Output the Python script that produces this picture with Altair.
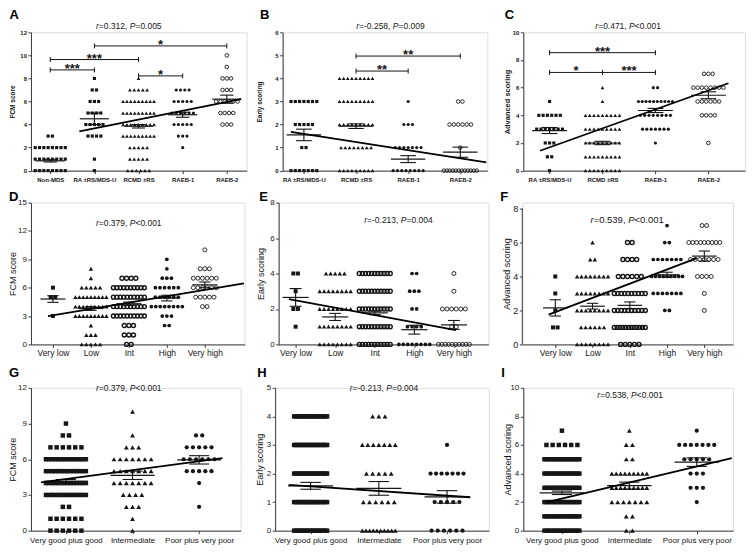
import json
import altair as alt
import pandas as pd

FONT = "Liberation Sans"
INK = "#161616"
AXC = "#3a3a3a"

# ---------------- data ----------------
A_groups = ["Non-MDS", "RA ±RS/MDS-U", "RCMD ±RS", "RAEB-1", "RAEB-2"]
A_counts = [
    {0: 8, 1: 8, 2: 8, 3: 2},
    {0: 1, 1: 1, 3: 4, 4: 5, 5: 4, 6: 3, 7: 2, 8: 1},
    {0: 6, 1: 5, 2: 5, 3: 9, 4: 9, 5: 9, 6: 9, 7: 5, 8: 1},
    {2: 1, 3: 3, 4: 5, 5: 6, 6: 5, 7: 4},
    {4: 3, 5: 4, 6: 6, 7: 3, 8: 3, 9: 1, 10: 1},
]
A_mean = [0.85, 4.5, 3.85, 4.85, 6.2]
A_sem = [0.1, 0.5, 0.15, 0.22, 0.35]
A_fit = [(0.66, 3.4), (4.32, 6.2)]
A_sig = [(0, 1, 8.74, "***"), (0, 2, 9.64, "***"), (1, 4, 10.82, "*"), (2, 3, 8.22, "*")]
A_stat = ("0.312", "=0.005")

B_groups = ["RA ±RS/MDS-U", "RCMD ±RS", "RAEB-1", "RAEB-2"]
B_counts = [
    {0: 7, 1: 2, 2: 5, 3: 7},
    {0: 9, 1: 8, 2: 9, 3: 9, 4: 9},
    {0: 8, 1: 7, 2: 3, 3: 1},
    {0: 12, 1: 1, 2: 6, 3: 2},
]
B_mean = [1.55, 1.93, 0.5, 0.8]
B_sem = [0.25, 0.1, 0.15, 0.22]
B_fit = [(-0.25, 1.68), (3.5, 0.36)]
B_sig = [(1, 3, 4.97, "**"), (1, 2, 4.32, "**")]
B_stat = ("-0.258", "=0.009")

C_groups = ["RA ±RS/MDS-U", "RCMD ±RS", "RAEB-1", "RAEB-2"]
C_counts = [
    {0: 1, 1: 2, 2: 3, 3: 7, 4: 6, 5: 1},
    {0: 9, 1: 9, 2: 9, 3: 9, 4: 9, 5: 1, 6: 1},
    {2: 1, 3: 7, 4: 8, 5: 10, 6: 2},
    {2: 1, 4: 4, 5: 6, 6: 8, 7: 3},
]
C_mean = [2.9, 2.0, 4.35, 5.45]
C_sem = [0.22, 0.12, 0.15, 0.25]
C_fit = [(-0.18, 1.44), (3.38, 6.32)]
C_sig = [(0, 2, 8.53, "***"), (0, 1, 7.1, "*"), (1, 2, 7.1, "***")]
C_stat = ("0.471", "<0.001")

RISK = ["Very low", "Low", "Int", "High", "Very high"]
D_counts = [
    {3: 1, 5: 2, 6: 1},
    {0: 5, 1: 3, 2: 1, 3: 9, 4: 9, 5: 9, 6: 5, 7: 1, 8: 1},
    {0: 2, 1: 3, 2: 3, 3: 10, 4: 10, 5: 10, 6: 10, 7: 4},
    {2: 2, 3: 3, 4: 8, 5: 6, 6: 6, 7: 3, 8: 1, 9: 1},
    {4: 2, 5: 5, 6: 6, 7: 6, 8: 3, 10: 1},
]
D_mean = [4.8, 3.8, 4.3, 4.9, 6.3]
D_sem = [0.35, 0.2, 0.18, 0.3, 0.3]
D_fit = [(-0.13, 3.0), (5.03, 6.45)]
D_stat = ("0.379", "<0.001")

E_counts = [
    {1: 1, 2: 2, 3: 1, 4: 2},
    {0: 8, 1: 8, 2: 8, 3: 8, 4: 5},
    {0: 11, 1: 11, 2: 11, 3: 11, 4: 11},
    {0: 8, 1: 4, 2: 2, 3: 3, 4: 2},
    {0: 10, 1: 2, 2: 6, 3: 1, 4: 1},
]
E_mean = [2.65, 1.55, 1.78, 0.83, 1.1]
E_sem = [0.5, 0.2, 0.1, 0.25, 0.25]
E_fit = [(-0.17, 2.55), (4.05, 0.8)]
E_stat = ("-0.213", "=0.004")

F_counts = [
    {1: 2, 2: 1, 3: 1, 4: 1},
    {0: 8, 1: 6, 2: 8, 3: 8, 4: 8, 5: 2, 6: 1},
    {0: 5, 1: 12, 2: 10, 3: 10, 4: 6, 5: 4, 6: 2},
    {2: 2, 3: 7, 4: 9, 5: 7, 6: 2, 7: 1},
    {2: 1, 3: 1, 4: 4, 5: 7, 6: 9, 7: 2},
]
F_mean = [2.15, 2.25, 2.3, 4.1, 5.2]
F_sem = [0.48, 0.17, 0.2, 0.15, 0.3]
F_fit = [(-0.18, 1.75), (3.8, 5.08)]
F_stat = ("0.539", "<0.001")

CYTO = ["Very good plus good", "Intermediate", "Poor plus very poor"]
G_counts = [
    {0: 6, 1: 6, 2: 2, 3: 14, 4: 14, 5: 14, 6: 14, 7: 6, 8: 2, 9: 1},
    {0: 1, 1: 1, 2: 3, 3: 4, 4: 7, 5: 7, 6: 7, 7: 3, 8: 1, 10: 1},
    {2: 1, 4: 1, 5: 5, 6: 6, 7: 5, 8: 2},
]
G_mean = [4.15, 4.65, 5.95]
G_sem = [0.15, 0.35, 0.35]
G_fit = [(-0.375, 4.06), (2.35, 6.1)]
G_stat = ("0.379", "<0.001")

H_counts = [
    {0: 18, 1: 18, 2: 18, 3: 18, 4: 18},
    {0: 10, 1: 6, 2: 5, 3: 7, 4: 3},
    {0: 6, 1: 5, 2: 7, 3: 1},
]
H_mean = [1.57, 1.48, 1.18]
H_sem = [0.12, 0.24, 0.22]
H_fit = [(-0.32, 1.6), (2.34, 1.17)]
H_stat = ("-0.213", "=0.004")

I_counts = [
    {0: 16, 1: 16, 2: 16, 3: 16, 4: 16, 5: 16, 6: 6, 7: 1},
    {0: 2, 1: 2, 2: 7, 3: 9, 4: 9, 5: 2, 6: 2, 7: 1},
    {2: 1, 3: 3, 4: 3, 5: 5, 6: 7, 7: 1},
]
I_mean = [2.65, 3.15, 4.8]
I_sem = [0.12, 0.25, 0.3]
I_fit = [(-0.22, 2.0), (2.52, 5.08)]
I_stat = ("0.538", "<0.001")

# ---------------- layout / style ----------------
CW = {'0': 556, '1': 556, '2': 556, '3': 556, '4': 556, '5': 556, '6': 556, '7': 556,
      '8': 556, '9': 556, '.': 278, ',': 278, ' ': 278, '=': 584, '<': 584, '-': 333,
      'P': 667, 'r': 333}


def text_w(s, fs):
    return sum(CW.get(c, 556) for c in s) * fs / 1000.0


ROW1 = dict(h=138.5, cat_fs=6, cat_fw="bold", cat_pad=2.5, ytick_fs=6, ytick_fw="bold",
            ytitle_fs=6.5, ytitle_fw="bold", stat_fs=8.5, step=4.3,
            sizes=dict(sq=10, tri=14, dot=10, ocirc=13, icirc=13))
ROW2 = dict(h=142, cat_fs=8.5, cat_fw="normal", cat_pad=1.5, ytick_fs=8, ytick_fw="normal",
            ytitle_fs=9, ytitle_fw="normal", stat_fs=8.5, step=4.6,
            sizes=dict(sq=16, tri=20, dot=14, ocirc=16, icirc=16))
ROW3 = dict(h=143, cat_fs=8, cat_fw="normal", cat_pad=3, ytick_fs=8, ytick_fw="normal",
            ytitle_fs=9, ytitle_fw="normal", stat_fs=8.5, step=6.2,
            sizes=dict(sq=20, tri=24, dot=18, ocirc=18, icirc=18))


def marker(style, sizes):
    if style == "sq":
        return dict(shape="square", filled=True, size=sizes["sq"], color=INK, opacity=1)
    if style == "tri":
        return dict(shape="triangle-up", filled=True, size=sizes["tri"], color=INK, opacity=1)
    if style == "dot":
        return dict(shape="circle", filled=True, size=sizes["dot"], color=INK, opacity=1)
    if style == "icirc":
        return dict(shape="circle", filled=False, size=sizes["icirc"], color=INK,
                    strokeWidth=1.4, opacity=1)
    return dict(shape="circle", filled=False, size=sizes["ocirc"], color=INK,
                strokeWidth=0.9, opacity=1)


def build_panel(P):
    R = P["row"]
    groups = P["groups"]
    n = len(groups)
    w, h = P["w"], R["h"]
    x0, x1 = P["xdom"]
    y0, y1 = P["ydom"]
    ppx = w / (x1 - x0)
    ppy = h / (y1 - y0)
    xs = alt.Scale(domain=[x0, x1], nice=False, zero=False)
    ys = alt.Scale(domain=[y0, y1], nice=False, zero=False)
    lab = json.dumps(groups, ensure_ascii=False) + "[datum.value]"
    xaxis = alt.Axis(values=list(range(n)), labelExpr=lab, title=None, grid=False,
                     domainColor=AXC, tickColor=AXC, tickSize=3, labelFont=FONT,
                     labelFontSize=R["cat_fs"], labelFontWeight=R["cat_fw"], labelColor=INK,
                     labelPadding=R["cat_pad"], labelAngle=0, labelOverlap=False,
                     labelFlush=False, labelLimit=400)
    yaxis = alt.Axis(values=P["yticks"], title=P["ytitle"], grid=False,
                     domain=P.get("ydomline", True), domainColor=AXC, tickColor=AXC,
                     tickSize=3, labelFont=FONT, labelFontSize=P.get("ytick_fs", R["ytick_fs"]),
                     labelFontWeight=R["ytick_fw"], labelColor=INK, labelPadding=1.5,
                     labelFlush=False, labelOverlap=False, format="d",
                     titleFont=FONT, titleFontSize=P.get("ytitle_fs", R["ytitle_fs"]),
                     titleFontWeight=R["ytitle_fw"], titleColor=INK,
                     titleX=P["ytitle_x"], titleY=h / 2, titleAngle=270,
                     titleAlign="center", titleBaseline="middle")

    def X(f):
        return alt.X(f, type="quantitative", scale=xs, axis=xaxis)

    def Y(f):
        return alt.Y(f, type="quantitative", scale=ys, axis=yaxis)

    layers = []
    step_i = R["step"] / ppx
    maxw_i = P["maxw"] / ppx
    # dots, spread sideways in rows like a column scatter
    for g, counts in enumerate(P["counts"]):
        xsv, ysv = [], []
        for v, c in counts.items():
            if c == 1:
                offs = [0.0]
            else:
                st = min(step_i, maxw_i / (c - 1))
                offs = [(i - (c - 1) / 2.0) * st for i in range(c)]
            for o in offs:
                xsv.append(g + o)
                ysv.append(v)
        df = pd.DataFrame({"x": xsv, "y": ysv})
        layers.append(alt.Chart(df).mark_point(**marker(P["marks"][g], R["sizes"]))
                      .encode(x=X("x"), y=Y("y")))
    # mean ± SEM
    mean = P["mean"]
    sem = P["sem"]
    mdf = pd.DataFrame({"xa": [g - 0.33 for g in range(n)], "xb": [g + 0.33 for g in range(n)],
                        "y": mean})
    layers.append(alt.Chart(mdf).mark_rule(color=INK, strokeWidth=1.2)
                  .encode(x=X("xa"), x2="xb", y=Y("y")))
    cdf = pd.DataFrame({"xa": [g - 0.15 for g in range(n)] * 2,
                        "xb": [g + 0.15 for g in range(n)] * 2,
                        "y": [m + s for m, s in zip(mean, sem)] + [m - s for m, s in zip(mean, sem)]})
    layers.append(alt.Chart(cdf).mark_rule(color=INK, strokeWidth=1.1)
                  .encode(x=X("xa"), x2="xb", y=Y("y")))
    vdf = pd.DataFrame({"x": list(range(n)), "ya": [m - s for m, s in zip(mean, sem)],
                        "yb": [m + s for m, s in zip(mean, sem)]})
    layers.append(alt.Chart(vdf).mark_rule(color=INK, strokeWidth=1.1)
                  .encode(x=X("x"), y=Y("ya"), y2="yb"))
    # regression line
    fdf = pd.DataFrame({"x": [p[0] for p in P["fit"]], "y": [p[1] for p in P["fit"]]})
    layers.append(alt.Chart(fdf).mark_line(color="#000", strokeWidth=1.8)
                  .encode(x=X("x"), y=Y("y")))
    # significance brackets
    sig = P.get("sig", [])
    if sig:
        d = 2.5 / ppy
        bdf = pd.DataFrame({"xa": [s[0] for s in sig], "xb": [s[1] for s in sig],
                            "y": [s[2] for s in sig]})
        layers.append(alt.Chart(bdf).mark_rule(color=INK, strokeWidth=1)
                      .encode(x=X("xa"), x2="xb", y=Y("y")))
        tx, ta, tb = [], [], []
        for s in sig:
            for gx in (s[0], s[1]):
                tx.append(gx)
                ta.append(s[2] - d)
                tb.append(s[2] + d)
        tdf = pd.DataFrame({"x": tx, "ya": ta, "yb": tb})
        layers.append(alt.Chart(tdf).mark_rule(color=INK, strokeWidth=1)
                      .encode(x=X("x"), y=Y("ya"), y2="yb"))
        sdf = pd.DataFrame({"x": [(s[0] + s[1]) / 2.0 for s in sig], "y": [s[2] for s in sig],
                            "s": [s[3] for s in sig]})
        layers.append(alt.Chart(sdf).mark_text(font=FONT, fontSize=13, fontWeight="bold",
                                               baseline="alphabetic", dy=3, color=INK)
                      .encode(x=X("x"), y=Y("y"), text="s:N"))
    # custom y axis line (when the axis stops at the top tick)
    if P.get("ytop") is not None:
        adf = pd.DataFrame({"x": [x0], "ya": [0], "yb": [P["ytop"]]})
        layers.append(alt.Chart(adf).mark_rule(color=AXC, strokeWidth=1)
                      .encode(x=X("x"), y=Y("ya"), y2="yb"))
    # panel letter
    lx, ly = P["letter_pos"]
    layers.append(alt.Chart(pd.DataFrame({"t": [P["letter"]]}))
                  .mark_text(font=FONT, fontSize=13, fontWeight="bold", align="left",
                             baseline="alphabetic", color="#000")
                  .encode(x=alt.value(lx), y=alt.value(ly), text="t:N"))
    # statistics text with italic r and P
    fs = P.get("stat_fs", R["stat_fs"])
    cx, cy = P["stat_pos"]
    segs = [("r", True), ("=" + P["stat"][0] + ", ", False), ("P", True), (P["stat"][1], False)]
    total = sum(text_w(s, fs) for s, _ in segs)
    sx = cx - total / 2.0
    for s, it in segs:
        layers.append(alt.Chart(pd.DataFrame({"t": [s]}))
                      .mark_text(font=FONT, fontSize=fs, fontStyle="italic" if it else "normal",
                                 align="left", baseline="middle", color=INK)
                      .encode(x=alt.value(sx), y=alt.value(cy), text="t:N"))
        sx += text_w(s, fs)
    return alt.layer(*layers).properties(width=w, height=h)


LY1, LY2, LY3 = -13.35, -1.35, -11.35

A = build_panel(dict(row=ROW1, groups=A_groups, counts=A_counts, mean=A_mean, sem=A_sem,
                     fit=A_fit, sig=A_sig, stat=A_stat, marks=["sq", "sq", "tri", "dot", "ocirc"],
                     w=216, xdom=[-0.437, 4.45], ydom=[0, 12], yticks=[0, 2, 4, 6, 8, 10, 12],
                     ytitle="FCM score", ytitle_x=-18, letter="A", letter_pos=(-21.5, LY1),
                     stat_pos=(98, -6.7), maxw=31))
B = build_panel(dict(row=ROW1, groups=B_groups, counts=B_counts, mean=B_mean, sem=B_sem,
                     fit=B_fit, sig=B_sig, stat=B_stat, marks=["sq", "tri", "dot", "ocirc"],
                     w=205, xdom=[-0.408, 3.519], ydom=[0, 6], yticks=[0, 1, 2, 3, 4, 5, 6],
                     ytitle="Early scoring", ytitle_x=-23, letter="B", letter_pos=(-22.7, LY1),
                     stat_pos=(108, -6.7), maxw=33))
C = build_panel(dict(row=ROW1, groups=C_groups, counts=C_counts, mean=C_mean, sem=C_sem,
                     fit=C_fit, sig=C_sig, stat=C_stat, marks=["sq", "tri", "dot", "ocirc"],
                     w=222, xdom=[-0.496, 3.692], ydom=[0, 10], yticks=[0, 2, 4, 6, 8, 10],
                     ytitle="Advanced scoring", ytitle_x=-16, ytitle_fs=7.5, letter="C",
                     letter_pos=(-18.7, LY1), stat_pos=(105, -6), maxw=34))
D = build_panel(dict(row=ROW2, groups=RISK, counts=D_counts, mean=D_mean, sem=D_sem,
                     fit=D_fit, stat=D_stat, marks=["sq", "tri", "icirc", "dot", "ocirc"],
                     w=214, xdom=[-0.579, 5.05], ydom=[0, 15], yticks=[0, 3, 6, 9, 12, 15],
                     ytitle="FCM score", ytitle_x=-18.5, letter="D", letter_pos=(-22, LY2),
                     stat_pos=(98, 20), maxw=31))
E = build_panel(dict(row=ROW2, groups=RISK, counts=E_counts, mean=E_mean, sem=E_sem,
                     fit=E_fit, stat=E_stat, marks=["sq", "tri", "icirc", "dot", "ocirc"],
                     w=210, xdom=[-0.429, 4.87], ydom=[0, 8], yticks=[0, 2, 4, 6, 8],
                     ytitle="Early scoring", ytitle_x=-18, letter="E", letter_pos=(-19.4, LY2),
                     stat_pos=(120, 17), maxw=31))
F = build_panel(dict(row=ROW2, groups=RISK, counts=F_counts, mean=F_mean, sem=F_sem,
                     fit=F_fit, stat=F_stat, marks=["sq", "tri", "icirc", "dot", "ocirc"],
                     w=211, xdom=[-0.885, 4.77], ydom=[0, 8.35], yticks=[0, 2, 4, 6, 8],
                     ydomline=False, ytop=8, ytick_fs=9,
                     ytitle="Advanced scoring", ytitle_x=-16, letter="F", letter_pos=(-22, LY2),
                     stat_pos=(105, 17), stat_fs=9.5, maxw=31))
G = build_panel(dict(row=ROW3, groups=CYTO, counts=G_counts, mean=G_mean, sem=G_sem,
                     fit=G_fit, stat=G_stat, marks=["sq", "tri", "dot"],
                     w=210, xdom=[-0.525, 2.624], ydom=[0, 12], yticks=[0, 3, 6, 9, 12],
                     ytitle="FCM score", ytitle_x=-18.5, letter="G", letter_pos=(-22, LY3),
                     stat_pos=(98, 0), maxw=40))
H = build_panel(dict(row=ROW3, groups=CYTO, counts=H_counts, mean=H_mean, sem=H_sem,
                     fit=H_fit, stat=H_stat, marks=["sq", "tri", "dot"],
                     w=214, xdom=[-0.52, 2.613], ydom=[0, 5], yticks=[0, 1, 2, 3, 4, 5],
                     ytitle="Early scoring", ytitle_x=-16, letter="H", letter_pos=(-18, LY3),
                     stat_pos=(109, 0), maxw=33))
I = build_panel(dict(row=ROW3, groups=CYTO, counts=I_counts, mean=I_mean, sem=I_sem,
                     fit=I_fit, stat=I_stat, marks=["sq", "tri", "dot"],
                     w=210, xdom=[-0.573, 2.538], ydom=[0, 10], yticks=[0, 2, 4, 6, 8, 10],
                     ytitle="Advanced scoring", ytitle_x=-16, letter="I", letter_pos=(-22, LY3),
                     stat_pos=(107, 7), maxw=35))

row1 = alt.hconcat(A, B, C, spacing=36, bounds="flush")
row2 = alt.hconcat(D, E, F, spacing=34, bounds="flush")
row3 = alt.hconcat(G, H, I, spacing=34.5, bounds="flush")

chart = alt.vconcat(row1, row2, row3, spacing=7.5)
chart = chart.properties(padding={"left": 0, "top": 0, "right": 2, "bottom": 2},
                         background="white")
chart = chart.configure_view(stroke=None).configure(font=FONT)

chart.save("out.html", embed_options={"renderer": "svg", "actions": False})
